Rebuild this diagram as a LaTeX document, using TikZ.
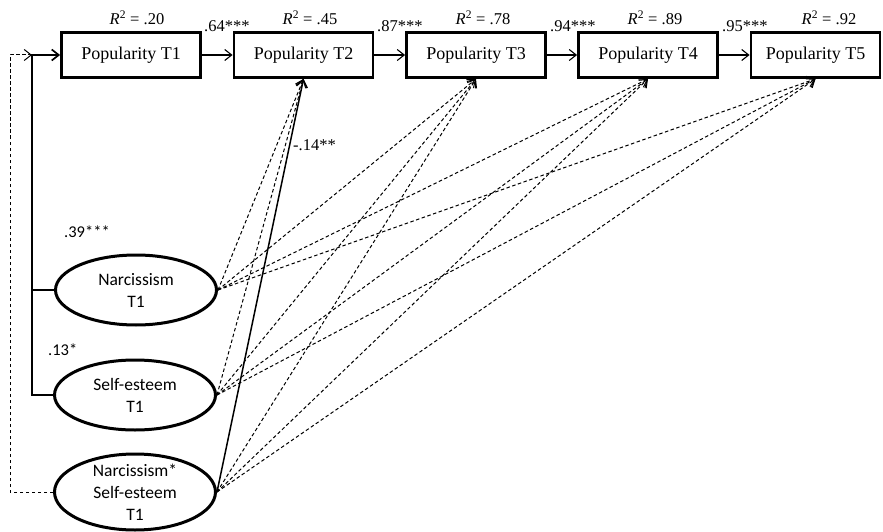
\documentclass[tikz,border=0pt]{standalone}
\usepackage{fontspec}
\setmainfont{Liberation Serif}
\newfontfamily\calfont{Carlito}
\usetikzlibrary{shapes.geometric,arrows.meta}

\tikzset{
  popbox/.style={draw,line width=2.8pt,minimum width=139pt,minimum height=45pt,inner sep=0pt,font=\fontsize{18}{20}\selectfont},
  trait/.style={draw,ellipse,line width=3pt,minimum width=161pt,minimum height=70pt,inner sep=0pt,align=center,font=\calfont\fontsize{17.5}{22}\selectfont},
  rsq/.style={anchor=base,inner sep=0pt,font=\fontsize{16.5}{19}\selectfont},
  coef/.style={anchor=base west,inner sep=0pt,font=\fontsize{16.5}{19}\selectfont},
  coefsans/.style={coef,font=\calfont\fontsize{16.5}{19}\selectfont},
  reg/.style={line width=1.1pt,-{Straight Barb[length=7pt,width=11pt]}},
  nsreg/.style={reg,line width=1pt,dash pattern=on 3.5pt off 2.5pt},
}

\begin{document}
\begin{tikzpicture}[x=1pt,y=-1pt]
\useasboundingbox (0,0) rectangle (883,532);
\node[popbox] (p1) at (131,55) {Popularity T1};
\node[popbox] (p2) at (303.5,55) {Popularity T2};
\node[popbox] (p3) at (476,55) {Popularity T3};
\node[popbox] (p4) at (648,55) {Popularity T4};
\node[popbox,minimum width=129pt] (p5) at (815.5,55) {Popularity T5};
\node[rsq] (r1) at (137,25) {\textit{R}\textsuperscript{2} = .20};
\node[rsq] (r2) at (310,25) {\textit{R}\textsuperscript{2} = .45};
\node[rsq] (r3) at (483,25) {\textit{R}\textsuperscript{2} = .78};
\node[rsq] (r4) at (655,25) {\textit{R}\textsuperscript{2} = .89};
\node[rsq] (r5) at (829,25) {\textit{R}\textsuperscript{2} = .92};
\draw[reg] (p1.east) -- (p2.west);
\draw[reg] (p2.east) -- (p3.west);
\draw[reg] (p3.east) -- (p4.west);
\draw[reg] (p4.east) -- (p5.west);
\node[coef] (b12) at (204,32) {.64***};
\node[coef] (b23) at (377,32) {.87***};
\node[coef] (b34) at (550,32) {.94***};
\node[coef] (b45) at (722,32) {.95***};

\node[trait] (na) at (136,290) {Narcissism\\T1};
\node[trait] (se) at (135,395) {Self-esteem\\T1};
\node[trait,minimum height=76pt,inner ysep=-4pt] (ix) at (135,492) {Narcissism*\\Self-esteem\\T1};

\coordinate (jt) at (32,55);
\coordinate (jd) at (10,55);
\draw[reg,line width=1.7pt] (se.west) -| (jt) -- (p1.west);
\draw[line width=1.7pt] (na.west) -- (na.west -| jt);
\draw[nsreg] (ix.west) -| (jd) -- (jt);
\node[coefsans] (bna) at (64,237) {.39***};
\node[coefsans] (bse) at (48,355) {.13*};

\foreach \t in {p2,p3,p4,p5} {
  \draw[nsreg] (na.east) -- (\t.south);
  \draw[nsreg] (se.east) -- (\t.south);
}
\foreach \t in {p3,p4,p5}
  \draw[nsreg] (ix.east) -- (\t.south);
\draw[reg,line width=1.5pt] (ix.east) -- (p2.south);
\node[coef] (bix) at (293,150) {-.14**};
\end{tikzpicture}
\end{document}
